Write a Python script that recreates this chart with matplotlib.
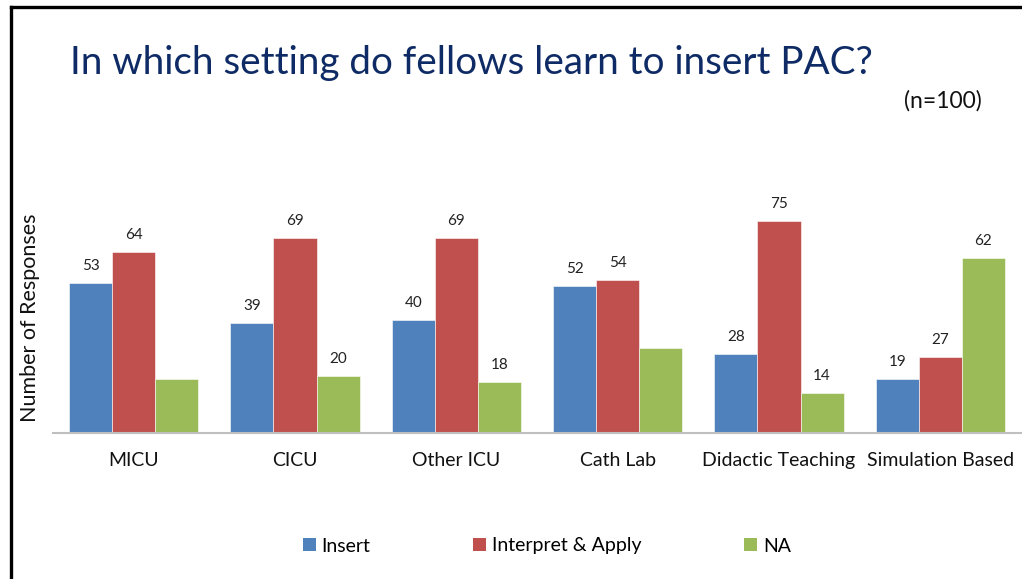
import numpy as np
import matplotlib.pyplot as plt
from matplotlib.lines import Line2D
from matplotlib.patches import Patch

settings = ["MICU", "CICU", "Other ICU", "Cath Lab", "Didactic Teaching", "Simulation Based"]
series_names = ["Insert", "Interpret & Apply", "NA"]
insert_vals = [53, 39, 40, 52, 28, 19]
interpret_vals = [64, 69, 69, 54, 75, 27]
na_vals = [19, 20, 18, 30, 14, 62]
# NA labels are missing for MICU and Cath Lab
na_labels = [None, 20, 18, None, 14, 62]

colors = ["#4F81BD", "#C0504D", "#9BBB59"]
title_color = "#0F2B66"

plt.rcParams['font.family'] = ['Lato', 'DejaVu Sans']

fig = plt.figure(figsize=(10.22, 5.79), dpi=100)
ax = fig.add_axes([53 / 1022, 1 - 433 / 579, 968 / 1022, 283 / 579])

x = np.arange(len(settings))
w = 0.267
all_vals = [insert_vals, interpret_vals, na_vals]
all_labels = [insert_vals, interpret_vals, na_labels]
for i, (vals, labs) in enumerate(zip(all_vals, all_labels)):
    pos = x + (i - 1) * w
    ax.bar(pos, vals, width=w, color=colors[i], edgecolor="white", linewidth=0.4)
    for p, v, lab in zip(pos, vals, labs):
        if lab is not None:
            ax.text(p, v + 3.5, str(lab), ha="center", va="bottom", fontsize=11, color="#222222")

ax.set_xlim(-0.5, len(settings) - 0.5)
ax.set_ylim(0, 100)
ax.set_yticks([])
ax.set_xticks(x)
ax.set_xticklabels(settings, fontsize=14, color="#111111")
ax.tick_params(axis="x", length=0, pad=14)
for s in ["top", "right", "left"]:
    ax.spines[s].set_visible(False)
ax.spines["bottom"].set_color("#BFBFBF")
ax.spines["bottom"].set_linewidth(1.5)

fig.text(30 / 1022, 1 - 318 / 579, "Number of Responses", rotation=90,
         ha="center", va="center", fontsize=15.5, color="#111111")

fig.text(70 / 1022, 1 - 63 / 579, "In which setting do fellows learn to insert PAC?",
         ha="left", va="center", fontsize=27.8, color=title_color)
fig.text(982 / 1022, 1 - 101 / 579, "(n=100)", ha="right", va="center",
         fontsize=16.5, color="#111111")

handles = [Patch(facecolor=c, edgecolor="none") for c in colors]
fig.legend(handles, series_names, loc="center", bbox_to_anchor=(547 / 1022, 1 - 546 / 579),
           ncol=3, frameon=False, fontsize=14, handlelength=0.65, handleheight=0.65,
           handletextpad=0.3, columnspacing=5.3)

# slide frame along the top and left edges
fig.add_artist(Line2D([11 / 1022, 1.0], [1 - 7 / 579, 1 - 7 / 579], color="black", linewidth=2.4))
fig.add_artist(Line2D([11 / 1022, 11 / 1022], [1 - 7 / 579, 0], color="black", linewidth=2.4))

fig.savefig("out.png", dpi=100)
